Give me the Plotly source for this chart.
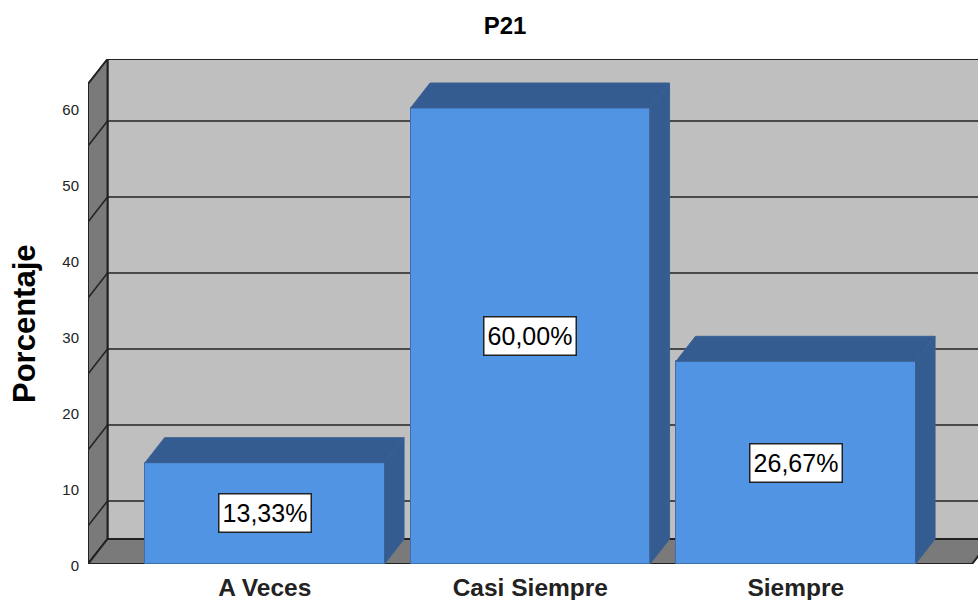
import plotly.graph_objects as go

categories = ["A Veces", "Casi Siempre", "Siempre"]
percent = [13.33, 60.00, 26.67]
y_ticks = [0, 10, 20, 30, 40, 50, 60]
wall_lines = [5, 15, 25, 35, 45, 55]  # the SPSS back wall lines sit between the ticks

page_w = 978
page_h = 600
left = 88
top = 59
bottom = 36

# 3d look, in axis units
unit_px = 7.6  # px per percent
cat_px = 265.5  # px per category
first_cat_px = 264.8 - left
dx = 19.5 / cat_px
dy = 25 / unit_px
bar_w = 239.5 / cat_px
x0 = -first_cat_px / cat_px
x1 = x0 + (page_w - left) / cat_px
floor_end = x0 + (972 - left) / cat_px
y_top = (page_h - top - bottom) / unit_px
front_top = y_top - dy

BAR = "#5294e4"
BAR_DARK = "#345c90"
WALL = "#bfbfbf"
WALL_DARK = "#7a7a7a"
LINE = "#222222"

fig = go.Figure()
fig.add_trace(go.Bar(x=list(range(len(categories))), y=percent, width=bar_w,
                     marker=dict(color=BAR, line=dict(color="#3f6fa8", width=1)),
                     hoverinfo="skip", showlegend=False))

# top and side face of each bar
for i, v in enumerate(percent):
    l = i - bar_w / 2
    r = i + bar_w / 2
    fig.add_trace(go.Scatter(x=[l, r, r + dx, l + dx, l], y=[v, v, v + dy, v + dy, v],
                             mode="lines", fill="toself", fillcolor=BAR_DARK,
                             line=dict(color="#3a6191", width=1),
                             hoverinfo="skip", showlegend=False))
    fig.add_trace(go.Scatter(x=[r, r + dx, r + dx, r, r], y=[0, dy, v + dy, v, 0],
                             mode="lines", fill="toself", fillcolor=BAR_DARK,
                             line=dict(color="#3a6191", width=1),
                             hoverinfo="skip", showlegend=False))

shapes = []
# back wall
shapes.append(dict(type="rect", x0=x0 + dx, x1=x1 + 1, y0=dy, y1=y_top, layer="below",
                   fillcolor=WALL, line=dict(color=LINE, width=2)))
# left wall
shapes.append(dict(type="path", layer="below", fillcolor=WALL_DARK, line=dict(color=LINE, width=2),
                   path=f"M {x0} 0 L {x0 + dx} {dy} L {x0 + dx} {y_top} L {x0} {front_top} Z"))
# floor
shapes.append(dict(type="path", layer="below", fillcolor=WALL_DARK, line=dict(color=LINE, width=2),
                   path=f"M {x0} 0 L {floor_end} 0 L {floor_end + dx} {dy} L {x0 + dx} {dy} Z"))
for g in wall_lines:
    shapes.append(dict(type="line", layer="below", x0=x0 + dx, x1=x1 + 1, y0=g + dy, y1=g + dy,
                       line=dict(color=LINE, width=1.5)))
    shapes.append(dict(type="line", layer="below", x0=x0, x1=x0 + dx, y0=g, y1=g + dy,
                       line=dict(color=LINE, width=1.5)))

annotations = []
for i, v in enumerate(percent):
    annotations.append(dict(x=i, y=v / 2, text=f"{v:.2f}%".replace(".", ","), showarrow=False,
                            font=dict(size=25, color="black"), width=91, height=37,
                            bgcolor="white", bordercolor=LINE, borderwidth=1.5, borderpad=0))
# y axis title, lower than the middle of the plot like the original
annotations.append(dict(text="<b>Porcentaje</b>", textangle=-90, showarrow=False,
                        xref="paper", yref="paper", x=0, y=0.5, xanchor="center", yanchor="middle",
                        xshift=-(left - 24), yshift=-(324 - (top + (page_h - top - bottom) / 2)),
                        font=dict(size=31, color="black")))

fig.update_layout(
    width=page_w, height=page_h,
    autosize=False,
    margin=dict(l=left, r=0, t=top, b=bottom),
    paper_bgcolor="white",
    plot_bgcolor="white",
    font=dict(family="Liberation Sans", color=LINE),
    title=dict(text="<b>P21</b>", x=505 / page_w, xanchor="center", y=1 - 26 / page_h, yanchor="middle",
               font=dict(size=24, color="black")),
    shapes=shapes,
    annotations=annotations,
    bargap=0,
)
fig.update_xaxes(range=[x0, x1], tickmode="array", tickvals=list(range(len(categories))),
                 ticktext=[f"<b>{c}</b>" for c in categories], ticks="", showgrid=False,
                 zeroline=False, showline=False, tickfont=dict(size=24.5, color=LINE),
                 ticklabelstandoff=6)
fig.update_yaxes(range=[0, y_top], tickmode="array", tickvals=y_ticks, ticks="", showgrid=False,
                 zeroline=False, showline=False, tickfont=dict(size=15, color=LINE),
                 ticklabelstandoff=8, ticklabelshift=2)

# no body margin, so the figure fills the window
fig.write_html("out.html", config={"displayModeBar": False},
               post_script="document.body.style.margin='0';")
